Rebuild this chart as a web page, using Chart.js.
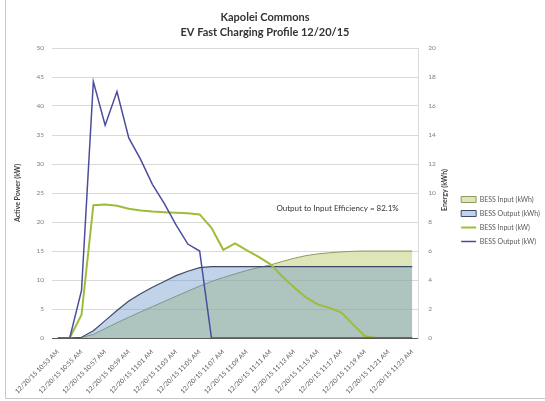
<!DOCTYPE html>
<html>
<head>
<meta charset="utf-8">
<script src="https://cdn.jsdelivr.net/npm/chart.js@4/dist/chart.umd.min.js"></script>
<style>
  html, body { margin: 0; padding: 0; background: #fff; }
  #wrap { position: relative; width: 545px; height: 401px; }
</style>
</head>
<body>
<div id="wrap"><canvas id="c" width="545" height="401"></canvas></div>
<script>
// One-minute readings from the Kapolei Commons BESS, 10:53 to 11:23 AM
const timeLabels = [
  '12/20/15 10:53 AM', '12/20/15 10:54 AM', '12/20/15 10:55 AM', '12/20/15 10:56 AM',
  '12/20/15 10:57 AM', '12/20/15 10:58 AM', '12/20/15 10:59 AM', '12/20/15 11:00 AM',
  '12/20/15 11:01 AM', '12/20/15 11:02 AM', '12/20/15 11:03 AM', '12/20/15 11:04 AM',
  '12/20/15 11:05 AM', '12/20/15 11:06 AM', '12/20/15 11:07 AM', '12/20/15 11:08 AM',
  '12/20/15 11:09 AM', '12/20/15 11:10 AM', '12/20/15 11:11 AM', '12/20/15 11:12 AM',
  '12/20/15 11:13 AM', '12/20/15 11:14 AM', '12/20/15 11:15 AM', '12/20/15 11:16 AM',
  '12/20/15 11:17 AM', '12/20/15 11:18 AM', '12/20/15 11:19 AM', '12/20/15 11:20 AM',
  '12/20/15 11:21 AM', '12/20/15 11:22 AM', '12/20/15 11:23 AM'
];

// Active power (kW)
const bessInputKW = [0, 0, 4.0, 22.9, 23.0, 22.8, 22.3, 22.0, 21.8, 21.7, 21.6, 21.5, 21.3, 19.0, 15.2, 16.3,
  15.1, 14.0, 12.7, 10.6, 8.7, 7.0, 5.8, 5.2, 4.4, 2.3, 0.3, 0, 0, 0, 0];
const bessOutputKW = [0, 0, 8.2, 44.2, 36.7, 42.5, 34.5, 30.8, 26.5, 23.2, 19.5, 16.2, 15.0, 0, 0, 0,
  0, 0, 0, 0, 0, 0, 0, 0, 0, 0, 0, 0, 0, 0, 0];

// Cumulative energy (kWh)
const bessInputKWh = [0, 0, 0.03, 0.25, 0.65, 1.05, 1.43, 1.8, 2.16, 2.52, 2.88, 3.23, 3.58, 3.9, 4.17, 4.42,
  4.66, 4.86, 5.04, 5.28, 5.5, 5.68, 5.8, 5.88, 5.94, 5.98, 6.0, 6.0, 6.0, 6.0, 6.0];
const bessOutputKWh = [0, 0, 0.05, 0.5, 1.2, 1.9, 2.55, 3.05, 3.5, 3.9, 4.3, 4.6, 4.85, 4.925, 4.925, 4.925,
  4.925, 4.925, 4.925, 4.925, 4.925, 4.925, 4.925, 4.925, 4.925, 4.925, 4.925, 4.925, 4.925, 4.925, 4.925];

const titleLines = ['Kapolei Commons', 'EV Fast Charging Profile 12/20/15'];
const leftAxisTitle = 'Active Power (kW)';
const rightAxisTitle = 'Energy (kWh)';

const FONT = 'Lato, "Liberation Sans", sans-serif';
const efficiency = bessOutputKWh[bessOutputKWh.length - 1] / bessInputKWh[bessInputKWh.length - 1] * 100;
const efficiencyText = 'Output to Input Efficiency = ' + efficiency.toFixed(1) + '%';

// Background, frame, two-line heading, right axis title (reading bottom-up) and the efficiency note
const decor = {
  id: 'decor',
  afterLayout(chart) {
    // sit the legend block a little above the middle of its column
    chart.legend.top -= 4;
    chart.legend.bottom -= 4;
  },
  beforeDraw(chart) {
    const ctx = chart.ctx;
    ctx.save();
    ctx.fillStyle = '#fff';
    ctx.fillRect(0, 0, chart.width, chart.height);
    ctx.restore();
  },
  afterDraw(chart) {
    const ctx = chart.ctx;
    const a = chart.chartArea;
    ctx.save();
    ctx.strokeStyle = '#c8c8c8';
    ctx.lineWidth = 1;
    ctx.beginPath();
    ctx.moveTo(5.5, 0);
    ctx.lineTo(5.5, 398.5);
    ctx.lineTo(545, 398.5);
    ctx.stroke();

    ctx.fillStyle = '#333';
    ctx.textAlign = 'center';
    ctx.textBaseline = 'middle';
    ctx.font = 'bold 11px ' + FONT;
    ctx.fillText(titleLines[0], 265, 17);
    ctx.fillText(titleLines[1], 265, 32);

    ctx.font = '8px ' + FONT;
    ctx.fillText(efficiencyText, a.left + (a.right - a.left) * 0.78, a.top + (a.bottom - a.top) * 0.552);

    ctx.fillStyle = '#404040';
    ctx.font = 'bold 7px ' + FONT;
    ctx.translate(a.right + 27, (a.top + a.bottom) / 2 - 3);
    ctx.rotate(-Math.PI / 2);
    ctx.fillText(rightAxisTitle, 0, 0);
    ctx.restore();
  }
};

new Chart(document.getElementById('c'), {
  type: 'line',
  data: {
    labels: timeLabels,
    datasets: [
      {
        label: 'BESS Input (kWh)', data: bessInputKWh, yAxisID: 'y2', order: 4,
        fill: 'origin', backgroundColor: 'rgba(190,205,115,0.5)', borderColor: '#8e9a62', borderWidth: 1,
        pointRadius: 0, tension: 0
      },
      {
        label: 'BESS Output (kWh)', data: bessOutputKWh, yAxisID: 'y2', order: 3,
        fill: 'origin', backgroundColor: 'rgba(100,145,200,0.4)', borderColor: '#3f4a68', borderWidth: 1.2,
        pointRadius: 0, tension: 0
      },
      {
        label: 'BESS Input (kW)', data: bessInputKW, yAxisID: 'y', order: 2,
        fill: false, borderColor: '#9dbd3a', backgroundColor: '#9dbd3a', borderWidth: 2,
        pointRadius: 0, tension: 0
      },
      {
        label: 'BESS Output (kW)', data: bessOutputKW, yAxisID: 'y', order: 1,
        fill: false, borderColor: '#4a4d9c', backgroundColor: '#4a4d9c', borderWidth: 1.5,
        pointRadius: 0, tension: 0
      }
    ]
  },
  options: {
    responsive: false,
    animation: false,
    events: [],
    layout: { padding: { left: 0, right: 0, top: 48, bottom: 0 } },
    plugins: {
      title: { display: false },
      legend: {
        position: 'right',
        labels: {
          usePointStyle: true, pointStyleWidth: 15, boxHeight: 6,
          color: '#595959', padding: 7,
          font: { family: FONT, size: 7 },
          sort: (a, b) => a.datasetIndex - b.datasetIndex,
          generateLabels(chart) {
            const items = Chart.defaults.plugins.legend.labels.generateLabels(chart);
            items.forEach(it => {
              const ds = chart.data.datasets[it.datasetIndex];
              it.pointStyle = ds.fill ? 'rect' : 'line';
              if (ds.fill) { it.lineWidth = 1; }
            });
            return items;
          }
        }
      },
      tooltip: { enabled: false }
    },
    scales: {
      x: {
        offset: true,
        grid: { display: false },
        border: { display: true, color: '#595959', width: 1 },
        ticks: {
          autoSkip: false, maxRotation: 45, minRotation: 45, padding: 2,
          color: '#595959', font: { family: FONT, size: 6.5 },
          callback: (v, i) => (i % 2 === 0 ? timeLabels[i] : '')
        },
        afterFit: s => { s.height = 63; }
      },
      y: {
        position: 'left', min: 0, max: 50,
        grid: { color: '#d9d9d9', drawTicks: false },
        border: { display: false },
        ticks: { stepSize: 5, padding: 8, color: '#7f7f7f', font: { family: FONT, size: 6.5 } },
        title: {
          display: true, text: leftAxisTitle, color: '#404040',
          font: { family: FONT, size: 7, weight: 'bold' }, padding: { top: 14, bottom: 4 }
        },
        afterFit: s => { s.width = 52; }
      },
      y2: {
        position: 'right', min: 0, max: 20,
        grid: { drawOnChartArea: false, drawTicks: false },
        border: { display: true, color: '#d9d9d9' },
        ticks: { stepSize: 2, padding: 10, color: '#7f7f7f', font: { family: FONT, size: 6.5 } },
        afterFit: s => { s.width = 36; }
      }
    }
  },
  plugins: [decor]
});
</script>
</body>
</html>
